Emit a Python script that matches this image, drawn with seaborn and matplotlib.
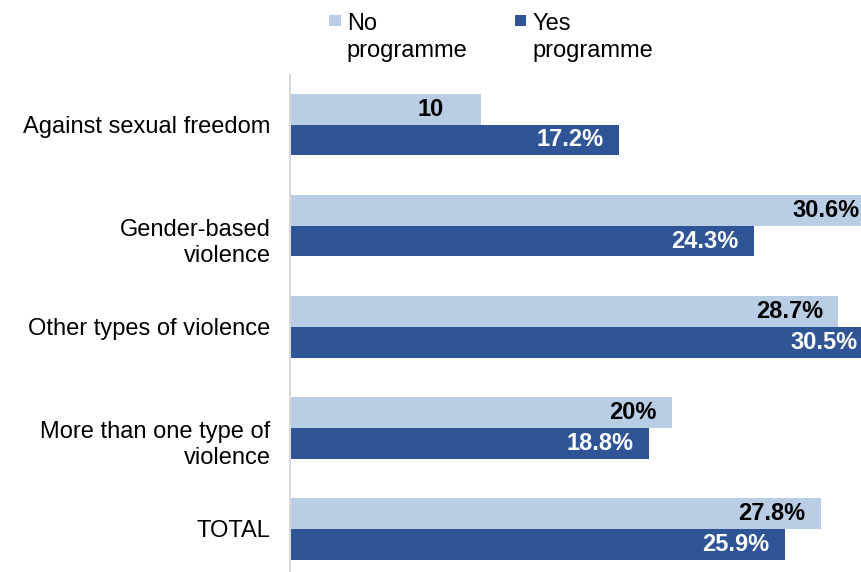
import matplotlib
matplotlib.use("Agg")
import matplotlib.pyplot as plt
from matplotlib.patches import Patch, Rectangle
from matplotlib.legend_handler import HandlerPatch
from matplotlib.transforms import ScaledTranslation
import seaborn as sns
import pandas as pd

# Data
categories = [
    "Against sexual freedom",
    "Gender-based\nviolence",
    "Other types of violence",
    "More than one type of\nviolence",
    "TOTAL",
]
series_names = ["No\nprogramme", "Yes\nprogramme"]
no_programme = [10.0, 30.6, 28.7, 20.0, 27.8]
yes_programme = [17.2, 24.3, 30.5, 18.8, 25.9]
no_labels = ["10", "30.6%", "28.7%", "20%", "27.8%"]
yes_labels = ["17.2%", "24.3%", "30.5%", "18.8%", "25.9%"]

colors = ["#B9CDE5", "#2F5597"]
label_colors = ["black", "white"]

df = pd.DataFrame({
    "category": categories * 2,
    "group": [series_names[0]] * len(categories) + [series_names[1]] * len(categories),
    "value": no_programme + yes_programme,
})

sns.set_theme(style="white")
plt.rcParams["font.family"] = ["Liberation Sans", "DejaVu Sans"]
plt.rcParams["text.color"] = "black"
plt.rcParams["ytick.labelcolor"] = "black"
FS = 17

W, H = 862, 572
fig = plt.figure(figsize=(W / 100, H / 100), dpi=100)

# axes placed in pixel terms; the value axis runs past the right edge
px_per_unit = 19.1
x_max = 31
left_px, top_px = 290, 75
cat_step = 101.1
y_lo, y_hi = -0.49, 4.5
ax_h_px = (y_hi - y_lo) * cat_step
ax = fig.add_axes([
    left_px / W,
    (H - top_px - ax_h_px) / H,
    x_max * px_per_unit / W,
    ax_h_px / H,
])

sns.barplot(
    data=df, y="category", x="value", hue="group", orient="h",
    palette=colors, saturation=1, width=0.61, ax=ax, legend=False,
    linewidth=0,
)
ax.set_xlim(0, x_max)
ax.set_ylim(y_hi, y_lo)
ax.set_xlabel("")
ax.set_ylabel("")
ax.set_xticks([])
for s in ["top", "right", "bottom"]:
    ax.spines[s].set_visible(False)
ax.spines["left"].set_color("#D9D9D9")
ax.spines["left"].set_linewidth(1.5)
ax.tick_params(axis="y", length=0, pad=14, labelsize=FS)

# two-line category labels hang down from the category centre
for t in ax.get_yticklabels():
    t.set_color("black")
    n_extra = t.get_text().count("\n")
    if n_extra:
        t.set_transform(t.get_transform()
                        + ScaledTranslation(0, -0.13 * n_extra, fig.dpi_scale_trans))

# value labels inside the bar ends
nudges = {(0, 0): -16}
for si, (cont, labels) in enumerate(zip(ax.containers, [no_labels, yes_labels])):
    for ci, (bar, lab) in enumerate(zip(cont, labels)):
        x_end = bar.get_x() + bar.get_width()
        yc = bar.get_y() + bar.get_height() / 2
        dx = -11 + nudges.get((si, ci), 0)
        ax.annotate(lab, (x_end, yc), xytext=(dx, 0), textcoords="offset points",
                    ha="right", va="center", fontsize=FS, fontweight="bold",
                    color=label_colors[si], clip_on=False)


# legend squares aligned with the first line of each two-line label
def first_line_square(legend, orig_handle, xdescent, ydescent, width, height, fontsize):
    return Rectangle((-xdescent, -ydescent + 0.76 * fontsize), width, width)


handles = [Patch(facecolor=c, edgecolor="none") for c in colors]
leg = fig.legend(
    handles, series_names, loc="upper left",
    bbox_to_anchor=(329 / W, 1 - 13 / H), ncol=2, frameon=False,
    fontsize=FS, handlelength=0.5, handleheight=0.5, handletextpad=0.25,
    columnspacing=2.0, borderpad=0, borderaxespad=0,
    handler_map={Patch: HandlerPatch(patch_func=first_line_square)},
)
for t in leg.get_texts():
    t.set_linespacing(1.3)
    t.set_color("black")

fig.savefig("out.png", dpi=100)
